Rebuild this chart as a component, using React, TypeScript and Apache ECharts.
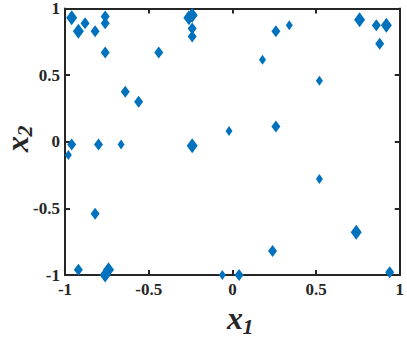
import React, { useEffect, useRef } from "react";
import * as echarts from "echarts";

const xValues = [
  -0.96, -0.92, -0.88, -0.82, -0.76, -0.76, -0.76, -0.64, -0.56, -0.44,
  -0.26, -0.24, -0.24, -0.24, -0.02, -0.96, -0.8, -0.665, -0.24, -0.98,
  0.26, 0.34, 0.18, 0.52, 0.76, 0.86, 0.92, 0.88, 0.26, 0.52,
  0.74, 0.24, -0.06, 0.04, 0.94, -0.82, -0.92, -0.76, -0.74,
];
const yValues = [
  0.93, 0.83, 0.89, 0.83, 0.94, 0.89, 0.67, 0.375, 0.3, 0.67,
  0.93, 0.95, 0.85, 0.79, 0.08, -0.02, -0.02, -0.02, -0.03, -0.1,
  0.83, 0.875, 0.615, 0.457, 0.915, 0.875, 0.875, 0.735, 0.115, -0.28,
  -0.68, -0.82, -1.0, -1.0, -0.98, -0.54, -0.96, -1.0, -0.96,
];
const magnitudes = [
  3, 3, 2, 2, 2, 2, 2, 2, 2, 2,
  3, 3, 2, 2, 1, 2, 2, 1, 3, 1,
  2, 1, 1, 1, 3, 2, 3, 2, 2, 1,
  3, 2, 1, 2, 2, 2, 2, 3, 3,
];
const tickValues = [-1, -0.5, 0, 0.5, 1];

const FONT = "Liberation Serif";
const INK = "#262626";

export default function App() {
  const ref = useRef<HTMLDivElement>(null);
  useEffect(() => {
    if (!ref.current) return;
    const chart = echarts.init(ref.current, null, { renderer: "svg" });
    const data = xValues.map((x, i) => [x, yValues[i], magnitudes[i]]);
    const fmt = (v: number) => (tickValues.includes(v) ? String(v) : "");
    const axisCommon = {
      type: "value" as const,
      min: -1,
      max: 1,
      interval: 0.5,
      splitLine: { show: false },
      axisLine: { show: true, onZero: false, lineStyle: { color: INK, width: 2 } },
      axisTick: { show: true, inside: true, length: 5, lineStyle: { color: INK, width: 2 } },
    };
    const labelStyle = {
      color: INK,
      fontFamily: FONT,
      fontWeight: "bold" as const,
      fontSize: 17,
      formatter: fmt,
    };
    const titleText = (text: string, x: number, y: number, size: number) => ({
      type: "text",
      x,
      y,
      style: {
        text,
        fontFamily: FONT,
        fontStyle: "italic",
        fontWeight: "bold",
        fontSize: size,
        fill: INK,
        align: "center",
        verticalAlign: "middle",
      },
    });
    chart.setOption({
      animation: false,
      grid: { left: 65, right: 4, top: 6, bottom: 62, containLabel: false },
      xAxis: [
        { ...axisCommon, position: "bottom", axisLabel: { ...labelStyle, margin: 6 } },
        { ...axisCommon, position: "top", axisLabel: { show: false } },
      ],
      yAxis: [
        { ...axisCommon, position: "left", axisLabel: { ...labelStyle, margin: 5 } },
        { ...axisCommon, position: "right", axisLabel: { show: false } },
      ],
      series: [
        {
          type: "scatter",
          xAxisIndex: 0,
          yAxisIndex: 0,
          symbol: "diamond",
          symbolSize: (v: number[]) =>
            v[2] === 3 ? [11, 15] : v[2] === 2 ? [9, 12] : [7, 10],
          itemStyle: { color: "#0072BD", opacity: 1 },
          data,
        },
      ],
      graphic: [
        {
          type: "group",
          children: [titleText("x", 235, 318, 32), titleText("1", 248, 326, 22)],
        },
        {
          type: "group",
          x: 17,
          y: 138,
          rotation: Math.PI / 2,
          children: [titleText("x", -6, 0, 32), titleText("2", 7, 7, 22)],
        },
      ],
    });
    return () => chart.dispose();
  }, []);
  return <div ref={ref} style={{ width: 407, height: 337, position: "absolute", left: 0, top: 0, background: "#fff" }} />;
}
